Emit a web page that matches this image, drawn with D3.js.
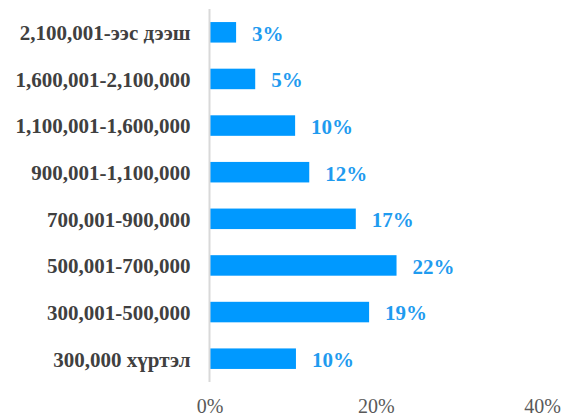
<!DOCTYPE html>
<html>
<head>
<meta charset="utf-8">
<script src="https://cdn.jsdelivr.net/npm/d3@7"></script>
<style>
  body { margin: 0; background: #fff; }
  svg { display: block; }
</style>
</head>
<body>
<svg width="568" height="417"></svg>
<script>
// Categories (top to bottom)
var categories = [
    "2,100,001-ээс дээш",
    "1,600,001-2,100,000",
    "1,100,001-1,600,000",
    "900,001-1,100,000",
    "700,001-900,000",
    "500,001-700,000",
    "300,001-500,000",
    "300,000 хүртэл"
];
// Share in percent
var values = [3.2, 5.5, 10.3, 12.0, 17.6, 22.5, 19.2, 10.4];
// Labels shown next to the bars
var valueLabels = ["3%", "5%", "10%", "12%", "17%", "22%", "19%", "10%"];
var xTicks = [0, 20, 40];

var svg = d3.select("svg"),
    margin = {top: 9, right: 26, bottom: 35, left: 209.5},
    width = +svg.attr("width") - margin.left - margin.right,
    height = +svg.attr("height") - margin.top - margin.bottom,
    g = svg.append("g").attr("transform", "translate(" + margin.left + "," + margin.top + ")");

var x = d3.scaleLinear()
    .domain([0, 40])
    .range([0, 332.5]);

var y = d3.scaleBand()
    .domain(categories)
    .range([0, 373])
    .paddingInner(0.56)
    .paddingOuter(0.28);

var font = "'Liberation Serif', 'Times New Roman', serif";

// Bars
g.selectAll(".bar")
    .data(values)
  .enter().append("rect")
    .attr("class", "bar")
    .attr("x", x(0))
    .attr("y", function(d, i) { return y(categories[i]); })
    .attr("width", function(d) { return x(d) - x(0); })
    .attr("height", y.bandwidth())
    .attr("fill", "#0099ff");

// Vertical axis line
g.append("line")
    .attr("x1", x(0)).attr("x2", x(0))
    .attr("y1", 0).attr("y2", 373)
    .attr("stroke", "#d9d9d9")
    .attr("stroke-width", 2);

// Category labels
g.selectAll(".cat")
    .data(categories)
  .enter().append("text")
    .attr("class", "cat")
    .attr("x", -19)
    .attr("y", function(d) { return y(d) + y.bandwidth() / 2 + 0.5; })
    .attr("dy", "0.35em")
    .attr("text-anchor", "end")
    .style("font-family", font)
    .style("font-weight", "bold")
    .style("font-size", "21px")
    .attr("fill", "#404040")
    .text(function(d) { return d; });

// Value labels
g.selectAll(".val")
    .data(values)
  .enter().append("text")
    .attr("class", "val")
    .attr("x", function(d) { return x(d) + 16; })
    .attr("y", function(d, i) { return y(categories[i]) + y.bandwidth() / 2 + 1; })
    .attr("dy", "0.35em")
    .style("font-family", font)
    .style("font-weight", "bold")
    .style("font-size", "21px")
    .attr("fill", "#1f9bef")
    .text(function(d, i) { return valueLabels[i]; });

// X axis tick labels
var xAxis = d3.axisBottom(x)
    .tickValues(xTicks)
    .tickSize(0)
    .tickPadding(0)
    .tickFormat(function(d) { return d + "%"; });

var ax = g.append("g")
    .attr("transform", "translate(0,390)")
    .call(xAxis);
ax.select(".domain").remove();
ax.selectAll("text")
    .style("font-family", font)
    .style("font-size", "20px")
    .attr("fill", "#595959");
</script>
</body>
</html>
